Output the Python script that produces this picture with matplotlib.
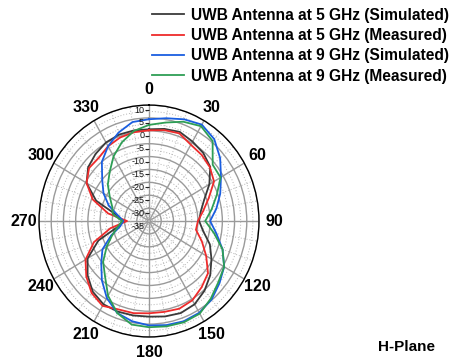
import matplotlib
matplotlib.use('Agg')
import matplotlib.pyplot as plt
import matplotlib.transforms as mtransforms
from matplotlib.lines import Line2D
import numpy as np

plt.rcParams['font.family'] = ['Liberation Sans', 'DejaVu Sans']

# angle in degrees (clockwise from top), gain in dB
angles = np.arange(0, 360, 10)

sim_5ghz = [0.6, 1.3, 1.8, 0.6, -0.5, -2.3, -6.5, -11.0, -13.5, -14.5, -12.5, -8.5,
            -5.5, -2.3, 0.3, 2.3, 3.0, 2.6, 2.1, 2.2, 2.4, 2.3, 0.8, -2.2,
            -6.0, -13.0, -22.0, -24.5, -21.5, -12.0, -5.5, -2.5, -1.0, 0.2, 0.7, 0.7]
meas_5ghz = [0.2, 0.8, 1.2, -0.8, -1.5, -2.5, -4.3, -9.0, -12.5, -15.0, -15.5, -12.0,
             -8.0, -3.5, -1.5, 0.5, 1.2, 0.8, 0.8, 1.3, 1.5, 3.0, 1.5, -1.5,
             -5.0, -11.0, -19.0, -26.0, -18.0, -10.5, -5.5, -3.0, -3.0, -1.5, -0.5, 0.0]
sim_9ghz = [4.5, 5.5, 7.0, 8.2, 6.5, 3.0, -1.0, -4.0, -7.0, -10.0, -7.0, -3.0,
            0.5, 2.6, 4.8, 6.1, 6.4, 6.0, 5.5, 4.5, 3.0, -0.5, -5.0, -9.5,
            -13.0, -18.5, -23.0, -24.5, -22.0, -17.5, -13.5, -10.0, -5.0, -1.5, 1.5, 4.0]
meas_9ghz = [2.3, 3.8, 6.0, 7.5, 5.5, -1.0, -1.2, -5.5, -9.0, -12.0, -8.0, -3.0,
             0.5, 2.0, 4.3, 6.5, 6.8, 6.5, 6.2, 5.8, 3.0, -1.5, -7.0, -10.5,
             -15.0, -19.0, -22.0, -24.0, -20.0, -19.0, -16.5, -13.0, -10.0, -6.0, -2.5, 0.5]

series = [
    ("UWB Antenna at 5 GHz (Simulated)", sim_5ghz, "#3a3a3a"),
    ("UWB Antenna at 5 GHz (Measured)", meas_5ghz, "#ee2b2b"),
    ("UWB Antenna at 9 GHz (Simulated)", sim_9ghz, "#1a5ee0"),
    ("UWB Antenna at 9 GHz (Measured)", meas_9ghz, "#2e9e55"),
]

r_min, r_max = -35, 10
r_labels = np.arange(10, -36, -5)

fig = plt.figure(figsize=(4.51, 3.63), dpi=100)
ax = fig.add_axes([0.0865, 0.0716, 0.4878, 0.639], projection='polar')
ax.set_aspect('auto')
ax.set_theta_zero_location('N')
ax.set_theta_direction(-1)
ax.set_ylim(r_min, r_max)

# grid: solid every 5 dB / 30 deg, dotted in between
ax.set_yticks(np.arange(-30, 11, 5))
ax.set_yticks(np.arange(-32.5, 10, 5), minor=True)
ax.set_yticklabels([])
ax.set_xticks(np.deg2rad(np.arange(0, 360, 10)), minor=True)
ax.set_thetagrids(np.arange(0, 360, 30), [str(a) for a in range(0, 360, 30)],
                  fontsize=11.5, fontweight='bold')
ax.tick_params(axis='x', pad=4, length=0, which='both')
ax.tick_params(axis='y', length=0, which='both')
ax.grid(True, which='major', color='#9a9a9a', lw=1.0, ls='-')
ax.grid(True, which='minor', color='#b4b4b4', lw=0.7, ls=(0, (1, 2)))
ax.spines['polar'].set_color('black')
ax.spines['polar'].set_linewidth(1.0)

for name, vals, col in series:
    th = np.deg2rad(np.append(angles, 360))
    r = np.append(vals, vals[0])
    ax.plot(th, r, color=col, lw=1.3, label=name)

# radial scale along the 0 deg axis
shift = mtransforms.offset_copy(ax.transData, fig=fig, x=0, y=-3.6, units='points')
ax.plot(np.zeros(len(r_labels) - 1), r_labels[:-1], ls='none', marker=0, ms=3,
        mew=0.8, color='#222222', transform=shift, clip_on=False)
for v in r_labels:
    ax.annotate(str(v), xy=(0, max(v, r_min)), xytext=(-3.5, -3.6),
                textcoords='offset points', ha='right', va='center',
                fontsize=6.5, color='#111111', annotation_clip=False)

handles = [Line2D([], [], color=c, lw=1.3) for _, _, c in series]
fig.legend(handles, [n for n, _, _ in series], loc='upper left',
           bbox_to_anchor=(0.307, 1.017), frameon=False, handlelength=2.05,
           handletextpad=0.4, labelspacing=0.34,
           prop={'size': 11.2, 'weight': 'bold'})

fig.text(0.902, 0.044, "H-Plane", ha='center', va='center', fontsize=11,
         fontweight='bold')

fig.savefig('out.png', dpi=100)
